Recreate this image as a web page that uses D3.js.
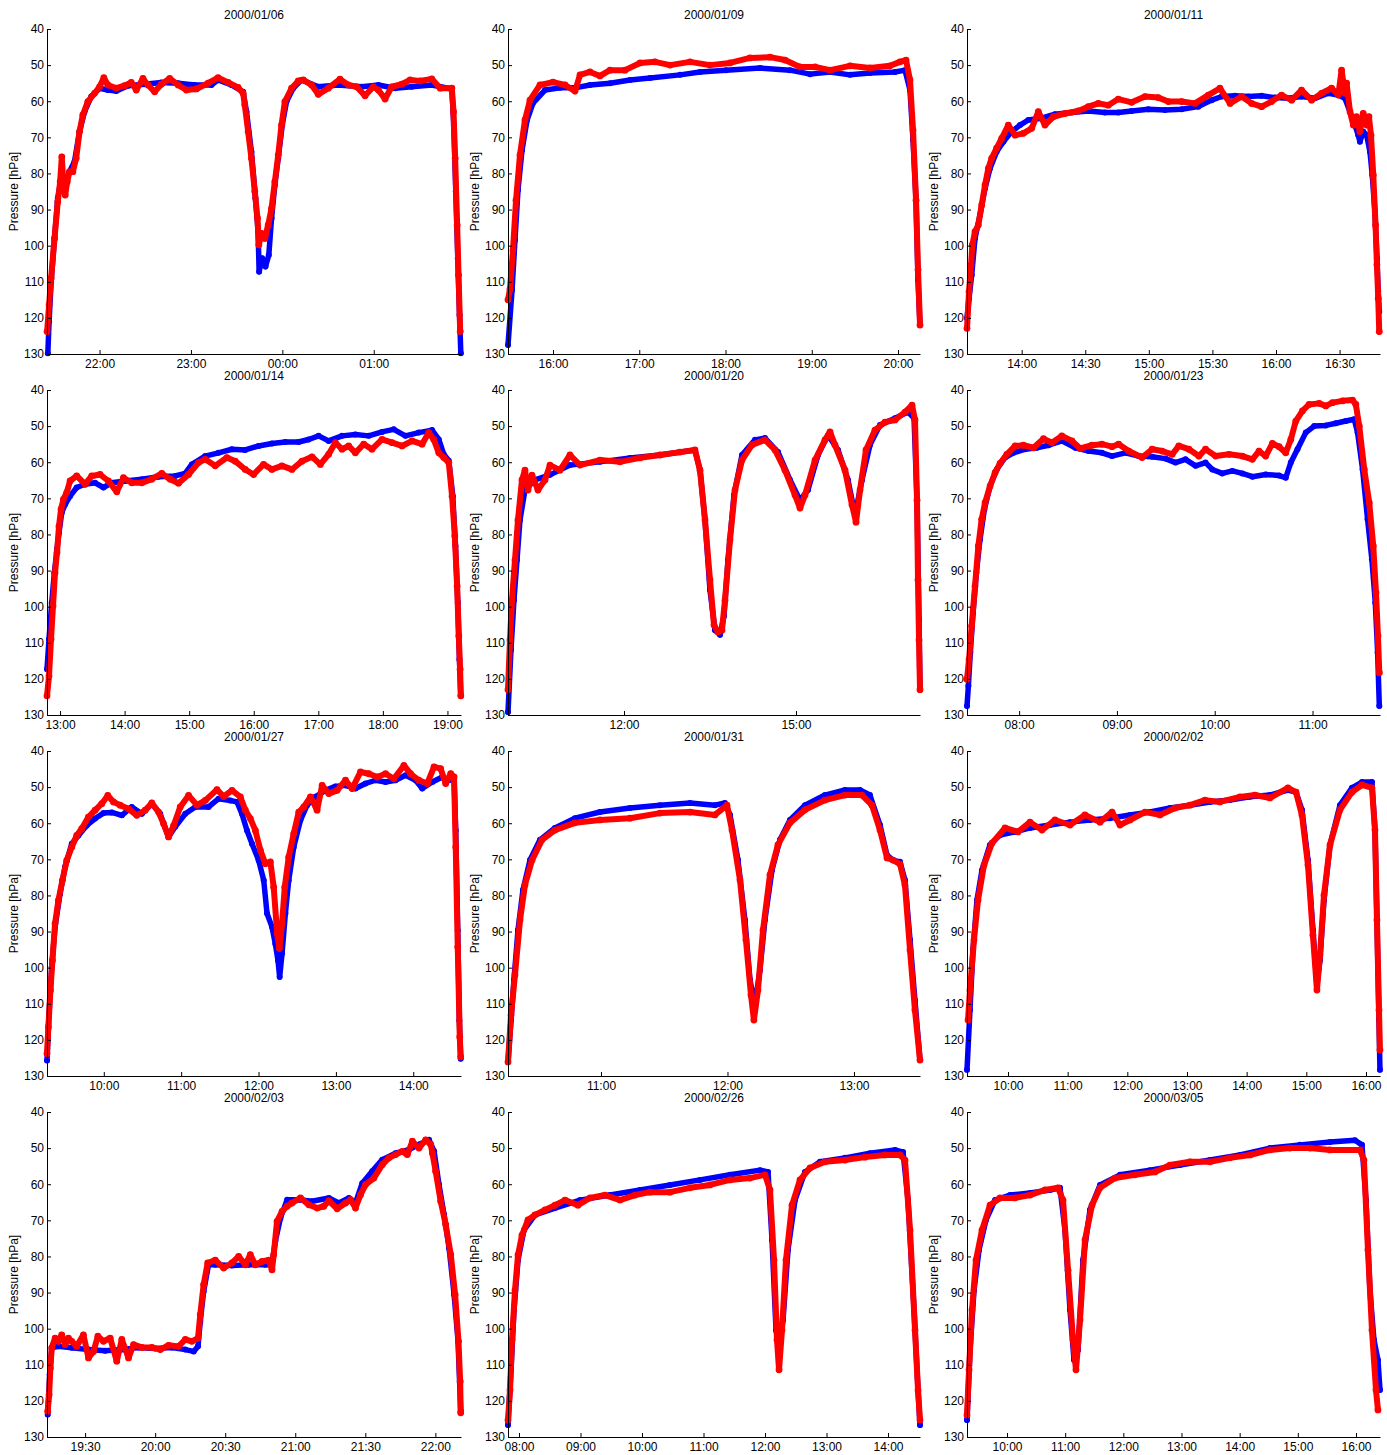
<!DOCTYPE html>
<html>
<head>
<meta charset="utf-8">
<script src="https://cdn.jsdelivr.net/npm/d3@7"></script>
<style>
  body { margin: 0; background: #fff; }
  text { font-family: "Liberation Sans", Arial, sans-serif; }
</style>
</head>
<body>
<div id="chart"></div>
<script>
// time in hours (of the day the panel starts on), pressure in hPa
const blue0106 = [[21.434,129.8],[21.448,121.0],[21.470,110.0],[21.507,98.0],[21.543,86.9],[21.580,81.4],[21.624,83.2],[21.671,79.5],[21.726,76.7],[21.781,68.4],[21.836,62.9],[21.909,58.7],[22.0,56.4],[22.091,56.9],[22.183,57.2],[22.311,55.7],[22.493,55.3],[22.676,54.8],[22.859,55.0],[23.041,55.5],[23.224,55.5],[23.297,54.1],[23.443,55.5],[23.571,57.4],[23.608,62.9],[23.662,74.0],[23.706,86.9],[23.735,96.1],[23.746,107.2],[23.779,103.5],[23.816,105.8],[23.852,102.6],[23.882,92.4],[23.918,83.2],[23.955,75.8],[23.999,66.6],[24.046,60.1],[24.119,56.4],[24.210,54.1],[24.393,56.0],[24.612,55.5],[24.868,56.0],[25.051,55.5],[25.234,56.4],[25.416,56.0],[25.635,55.5],[25.855,56.6],[25.876,66.6],[25.898,85.0],[25.920,103.5],[25.939,119.2],[25.953,129.8]];
const red0106 = [[21.426,123.8],[21.448,116.4],[21.470,109.0],[21.507,98.0],[21.543,87.8],[21.569,82.3],[21.587,75.4],[21.605,83.2],[21.624,86.0],[21.646,82.3],[21.671,79.5],[21.708,79.5],[21.744,75.8],[21.781,68.4],[21.817,63.8],[21.872,60.1],[21.945,57.8],[22.0,56.0],[22.047,53.5],[22.091,55.5],[22.183,56.4],[22.274,55.7],[22.347,54.8],[22.402,56.9],[22.475,53.7],[22.530,55.5],[22.603,57.4],[22.676,55.3],[22.767,53.7],[22.859,55.5],[22.950,56.9],[23.060,56.6],[23.187,55.0],[23.297,53.5],[23.407,54.8],[23.516,56.2],[23.571,57.8],[23.589,61.0],[23.626,68.4],[23.662,75.8],[23.699,85.0],[23.728,92.4],[23.743,99.8],[23.772,96.6],[23.809,98.0],[23.845,94.3],[23.882,89.7],[23.918,82.3],[23.955,74.9],[23.991,66.6],[24.028,60.1],[24.101,56.4],[24.174,54.4],[24.229,54.1],[24.320,55.5],[24.393,58.1],[24.503,56.4],[24.631,53.9],[24.722,55.5],[24.813,56.0],[24.905,58.5],[24.996,56.0],[25.051,56.9],[25.124,59.4],[25.197,56.0],[25.307,55.3],[25.398,54.1],[25.508,54.4],[25.635,53.8],[25.727,56.4],[25.855,56.4],[25.873,62.9],[25.891,75.8],[25.913,94.3],[25.928,108.1],[25.946,123.8]];

const blue0109 = [[15.478,127.5],[15.525,112.3],[15.559,98.4],[15.594,84.6],[15.641,73.5],[15.699,65.2],[15.768,60.5],[15.907,56.9],[16.081,56.3],[16.255,56.3],[16.429,55.5],[16.661,55.0],[16.893,54.1],[17.125,53.6],[17.473,52.7],[17.704,51.9],[18.006,51.4],[18.4,50.8],[18.748,51.4],[18.980,52.5],[19.212,51.9],[19.443,52.7],[19.675,52.2],[19.965,51.9],[20.081,51.4],[20.139,56.9],[20.174,70.7],[20.209,87.4],[20.232,109.5],[20.255,122.0]];
const red0109 = [[15.478,115.0],[15.501,112.0],[15.536,101.2],[15.571,87.4],[15.617,74.9],[15.675,65.2],[15.733,59.7],[15.849,55.5],[16.0,54.7],[16.139,55.5],[16.255,57.2],[16.313,52.7],[16.429,51.9],[16.545,53.0],[16.661,51.4],[16.835,51.4],[17.009,49.4],[17.183,49.1],[17.357,50.0],[17.588,49.1],[17.820,50.0],[18.052,49.4],[18.284,48.0],[18.516,47.8],[18.690,48.6],[18.864,50.5],[19.038,50.5],[19.212,51.4],[19.443,50.2],[19.675,50.8],[19.907,50.2],[20.023,49.1],[20.093,48.6],[20.139,54.1],[20.174,68.0],[20.209,87.4],[20.232,106.7],[20.255,122.0]];

const blue0111 = [[13.570,120.1],[13.586,114.6],[13.607,108.1],[13.633,98.0],[13.672,91.5],[13.712,84.1],[13.751,78.6],[13.803,74.0],[13.856,71.2],[13.921,68.4],[13.987,66.6],[14.052,65.2],[14.157,64.7],[14.262,63.6],[14.393,63.1],[14.524,62.7],[14.655,63.1],[14.760,63.1],[14.865,62.7],[14.996,62.2],[15.127,62.4],[15.258,62.2],[15.389,61.5],[15.494,59.7],[15.573,58.7],[15.677,58.5],[15.782,58.7],[15.887,58.5],[15.992,59.0],[16.096,59.2],[16.201,58.7],[16.306,59.2],[16.411,57.8],[16.490,58.3],[16.542,59.2],[16.582,62.9],[16.621,66.6],[16.647,69.4],[16.660,71.2],[16.686,68.4],[16.713,69.4],[16.739,74.0],[16.757,80.4],[16.778,90.6],[16.794,103.5],[16.804,112.7],[16.812,118.3]];
const red0111 = [[13.570,122.9],[13.586,112.7],[13.602,105.3],[13.612,99.8],[13.633,96.1],[13.659,94.3],[13.686,88.7],[13.712,83.2],[13.738,78.6],[13.764,75.8],[13.803,73.0],[13.843,70.3],[13.895,66.6],[13.948,69.4],[14.013,68.9],[14.079,67.5],[14.131,62.9],[14.183,66.6],[14.249,64.3],[14.341,63.4],[14.445,62.7],[14.524,61.5],[14.603,60.6],[14.681,61.1],[14.760,59.4],[14.865,60.3],[14.970,58.7],[15.074,59.0],[15.153,60.1],[15.258,60.1],[15.363,60.6],[15.468,58.3],[15.559,56.4],[15.639,60.6],[15.730,58.7],[15.808,60.6],[15.887,61.5],[15.965,60.1],[16.044,58.3],[16.123,59.7],[16.201,56.9],[16.280,59.7],[16.359,57.8],[16.437,56.4],[16.490,58.3],[16.516,51.4],[16.542,57.8],[16.555,55.0],[16.582,62.9],[16.608,66.6],[16.634,64.3],[16.660,68.4],[16.686,63.4],[16.713,66.6],[16.731,64.3],[16.747,69.4],[16.765,80.4],[16.783,94.3],[16.794,105.3],[16.804,114.6],[16.812,123.8]];

const blue0114 = [[12.798,117.3],[12.829,109.0],[12.871,98.9],[12.912,90.6],[12.953,84.1],[12.984,79.5],[13.026,74.0],[13.078,71.7],[13.155,69.4],[13.258,67.0],[13.388,66.1],[13.543,65.7],[13.672,67.0],[13.801,65.7],[14.008,65.2],[14.266,64.7],[14.525,64.0],[14.783,63.8],[14.938,63.1],[15.041,60.6],[15.248,58.3],[15.455,57.4],[15.661,56.4],[15.868,56.6],[16.075,55.5],[16.282,54.8],[16.488,54.4],[16.695,54.4],[16.850,53.7],[17.005,52.7],[17.160,54.1],[17.367,52.7],[17.574,52.3],[17.780,52.7],[17.987,51.6],[18.168,50.9],[18.349,52.7],[18.556,51.8],[18.762,51.1],[18.866,53.7],[18.943,57.8],[19.021,59.6],[19.083,69.4],[19.124,83.2],[19.160,98.9],[19.186,114.6],[19.207,124.7]];
const red0114 = [[12.798,124.7],[12.829,119.2],[12.860,109.0],[12.891,99.8],[12.922,90.6],[12.953,85.0],[12.984,77.7],[13.016,73.0],[13.052,70.3],[13.103,68.4],[13.155,65.2],[13.258,63.8],[13.388,66.1],[13.491,63.8],[13.620,63.4],[13.749,65.2],[13.879,68.2],[13.982,64.3],[14.111,65.7],[14.266,65.7],[14.421,64.7],[14.576,63.1],[14.705,64.7],[14.835,65.8],[14.990,63.4],[15.145,60.1],[15.248,59.2],[15.403,61.0],[15.584,58.7],[15.713,59.7],[15.868,62.0],[15.997,63.4],[16.152,60.6],[16.282,62.0],[16.437,61.0],[16.592,62.0],[16.747,59.7],[16.902,58.5],[17.031,60.6],[17.160,57.8],[17.264,54.6],[17.367,56.4],[17.470,55.5],[17.574,57.4],[17.703,55.0],[17.832,56.4],[17.987,53.7],[18.142,54.6],[18.297,55.5],[18.452,54.1],[18.607,55.0],[18.711,51.8],[18.788,53.7],[18.866,57.4],[18.943,58.7],[19.021,60.1],[19.072,69.4],[19.114,80.4],[19.150,94.3],[19.176,108.1],[19.196,117.3],[19.207,124.7]];

const blue0120 = [[9.977,129.2],[10.029,112.0],[10.081,98.2],[10.134,87.1],[10.186,76.0],[10.273,67.7],[10.448,64.9],[10.709,63.5],[11.058,60.8],[11.581,59.9],[12.105,58.8],[12.628,58.0],[13.238,56.6],[13.326,62.2],[13.413,76.0],[13.500,95.4],[13.587,106.5],[13.675,107.8],[13.744,102.6],[13.814,87.1],[13.919,69.1],[14.058,58.0],[14.285,53.8],[14.459,53.3],[14.686,57.2],[14.896,64.9],[15.070,70.5],[15.209,67.7],[15.384,58.0],[15.558,52.5],[15.733,56.6],[15.907,64.9],[16.029,74.6],[16.151,64.9],[16.291,55.2],[16.465,49.7],[16.727,47.8],[16.954,46.1],[17.059,47.8],[17.111,70.5],[17.146,103.6],[17.163,123.0]];
const red0120 = [[9.977,123.0],[10.012,109.2],[10.046,98.2],[10.099,87.1],[10.151,76.0],[10.221,64.9],[10.273,62.2],[10.326,67.7],[10.395,63.6],[10.500,67.7],[10.622,64.9],[10.709,60.8],[10.884,62.2],[11.058,58.0],[11.233,60.8],[11.581,59.4],[11.930,59.9],[12.279,58.8],[12.628,58.0],[12.977,57.2],[13.238,56.6],[13.326,62.2],[13.413,76.0],[13.500,92.6],[13.570,105.1],[13.640,107.0],[13.709,106.5],[13.762,98.2],[13.849,81.5],[13.936,67.7],[14.058,59.4],[14.233,55.2],[14.459,53.8],[14.634,56.6],[14.808,62.2],[14.983,69.1],[15.070,72.7],[15.157,69.1],[15.332,59.4],[15.506,53.8],[15.593,51.6],[15.680,55.2],[15.855,62.2],[15.977,71.8],[16.047,76.6],[16.117,67.7],[16.221,56.6],[16.378,51.1],[16.553,48.9],[16.727,48.3],[16.901,46.1],[17.024,44.2],[17.076,48.3],[17.111,70.5],[17.128,92.6],[17.146,109.2],[17.163,123.0]];

const blue0123 = [[7.467,127.5],[7.481,122.0],[7.501,112.7],[7.529,101.7],[7.563,90.6],[7.600,81.4],[7.645,73.0],[7.703,66.6],[7.771,62.0],[7.857,58.7],[7.942,57.4],[8.062,56.4],[8.181,56.0],[8.301,55.3],[8.437,54.1],[8.574,56.0],[8.711,56.9],[8.847,57.4],[8.950,58.3],[9.086,57.4],[9.223,58.3],[9.360,58.5],[9.496,59.0],[9.599,60.1],[9.701,59.2],[9.804,61.0],[9.906,60.1],[9.975,62.0],[10.077,63.1],[10.180,62.4],[10.282,63.1],[10.385,64.0],[10.521,63.4],[10.658,63.7],[10.726,64.3],[10.778,60.1],[10.846,56.4],[10.931,51.8],[11.017,50.0],[11.136,49.8],[11.239,49.2],[11.341,48.6],[11.427,48.1],[11.461,51.8],[11.512,62.0],[11.563,75.8],[11.607,86.9],[11.642,98.9],[11.666,112.7],[11.683,127.5]];
const red0123 = [[7.467,120.1],[7.488,114.6],[7.515,105.3],[7.549,94.3],[7.583,83.2],[7.617,75.8],[7.652,71.2],[7.703,66.6],[7.754,62.9],[7.805,60.3],[7.874,57.8],[7.959,55.5],[8.044,55.3],[8.147,56.0],[8.249,53.5],[8.335,54.6],[8.437,52.7],[8.540,54.1],[8.625,56.2],[8.745,55.3],[8.847,55.0],[8.950,55.7],[9.018,55.0],[9.121,56.9],[9.257,58.7],[9.360,56.4],[9.462,56.9],[9.565,57.8],[9.633,55.5],[9.736,56.4],[9.838,58.3],[9.906,56.4],[10.009,58.3],[10.146,57.8],[10.282,58.3],[10.385,59.2],[10.453,56.9],[10.521,58.3],[10.590,54.8],[10.658,55.7],[10.726,57.4],[10.778,53.7],[10.829,48.6],[10.897,45.8],[10.965,44.0],[11.068,43.7],[11.136,44.4],[11.204,43.5],[11.307,43.0],[11.409,42.8],[11.443,44.0],[11.478,50.0],[11.529,62.0],[11.580,71.2],[11.621,83.2],[11.649,96.1],[11.669,108.1],[11.683,118.3]];

const blue0127 = [[9.266,125.7],[9.292,112.7],[9.327,99.8],[9.370,88.7],[9.435,79.5],[9.499,72.1],[9.586,65.7],[9.672,63.4],[9.780,60.6],[9.888,58.7],[9.996,57.2],[10.104,57.0],[10.233,57.8],[10.362,55.5],[10.492,57.4],[10.621,54.6],[10.729,57.4],[10.837,63.8],[10.923,61.0],[11.053,57.4],[11.182,55.5],[11.355,55.5],[11.484,53.2],[11.635,53.7],[11.722,54.1],[11.786,57.4],[11.851,62.0],[11.916,65.7],[12.002,70.3],[12.067,75.8],[12.110,85.0],[12.174,88.7],[12.217,93.4],[12.252,98.0],[12.273,102.6],[12.304,96.1],[12.347,85.0],[12.390,75.8],[12.455,66.6],[12.541,59.2],[12.628,55.0],[12.735,52.7],[12.865,50.9],[12.994,49.8],[13.124,49.5],[13.253,50.4],[13.383,49.0],[13.512,48.1],[13.642,48.6],[13.771,48.1],[13.901,46.7],[14.030,48.1],[14.116,50.4],[14.246,48.6],[14.375,47.2],[14.462,48.1],[14.527,47.2],[14.549,62.0],[14.575,89.7],[14.596,114.6],[14.613,125.2]];
const red0127 = [[9.266,123.8],[9.284,116.4],[9.310,106.3],[9.336,98.0],[9.370,87.8],[9.413,81.4],[9.465,75.8],[9.521,70.3],[9.586,66.6],[9.650,63.4],[9.715,61.5],[9.801,58.3],[9.888,56.4],[9.974,54.6],[10.052,52.3],[10.125,54.1],[10.211,55.0],[10.319,56.0],[10.427,57.8],[10.535,56.4],[10.621,54.4],[10.708,56.9],[10.772,60.1],[10.837,63.8],[10.902,60.7],[10.988,55.5],[11.096,52.3],[11.204,55.0],[11.312,53.7],[11.463,50.7],[11.549,52.6],[11.657,50.9],[11.765,52.7],[11.830,56.4],[11.894,58.7],[11.959,62.0],[12.024,67.5],[12.088,71.2],[12.153,70.7],[12.196,77.7],[12.241,90.6],[12.270,94.7],[12.304,87.8],[12.339,77.7],[12.390,69.4],[12.455,62.9],[12.520,56.9],[12.585,55.5],[12.671,52.7],[12.757,56.4],[12.822,49.5],[12.908,51.8],[13.016,50.9],[13.124,48.1],[13.210,50.4],[13.318,45.8],[13.426,46.3],[13.534,47.2],[13.642,46.3],[13.749,47.7],[13.879,44.0],[13.965,46.3],[14.073,48.1],[14.181,49.0],[14.268,44.4],[14.354,44.9],[14.419,49.0],[14.484,46.3],[14.527,47.2],[14.549,66.6],[14.575,94.3],[14.601,119.2],[14.613,124.7]];

const blue0131 = [[10.265,126.1],[10.289,114.5],[10.312,103.4],[10.344,89.6],[10.383,78.5],[10.439,70.2],[10.518,64.6],[10.636,61.3],[10.794,58.6],[10.992,56.9],[11.229,55.8],[11.466,55.0],[11.704,54.4],[11.901,55.0],[11.980,54.4],[12.020,57.7],[12.083,70.2],[12.138,86.8],[12.178,103.4],[12.217,110.3],[12.257,100.6],[12.296,86.8],[12.352,73.0],[12.415,64.6],[12.494,59.1],[12.613,55.0],[12.771,52.2],[12.929,50.8],[13.047,50.8],[13.126,52.2],[13.206,60.5],[13.261,68.8],[13.308,70.2],[13.364,70.7],[13.403,75.7],[13.443,92.3],[13.482,109.0],[13.522,125.6]];
const red0131 = [[10.265,126.1],[10.289,113.1],[10.320,102.0],[10.360,86.8],[10.399,77.1],[10.455,70.2],[10.534,64.6],[10.636,61.9],[10.794,59.9],[10.992,59.1],[11.229,58.6],[11.466,57.2],[11.704,56.9],[11.901,57.7],[11.996,55.0],[12.036,61.9],[12.099,75.7],[12.146,92.3],[12.186,107.6],[12.209,114.5],[12.241,106.2],[12.281,89.6],[12.336,74.3],[12.399,66.0],[12.494,59.9],[12.613,56.3],[12.771,53.6],[12.929,52.2],[13.063,52.2],[13.142,55.0],[13.206,61.9],[13.261,69.6],[13.308,70.2],[13.364,71.3],[13.403,77.1],[13.443,95.1],[13.482,111.7],[13.522,125.6]];

const blue0202 = [[9.313,128.3],[9.363,111.7],[9.413,95.1],[9.480,81.3],[9.564,73.0],[9.698,66.0],[9.866,63.3],[10.117,62.4],[10.369,61.3],[10.704,60.5],[11.039,59.7],[11.374,59.1],[11.709,58.6],[12.045,57.7],[12.380,56.9],[12.715,55.8],[13.050,55.0],[13.385,54.1],[13.720,53.6],[14.056,52.7],[14.391,52.2],[14.692,50.8],[14.827,51.4],[14.927,56.3],[15.028,70.2],[15.111,89.6],[15.178,104.8],[15.229,97.9],[15.296,81.3],[15.397,66.0],[15.564,55.0],[15.765,50.2],[15.933,48.6],[16.100,48.6],[16.151,61.9],[16.184,86.8],[16.218,114.5],[16.234,128.3]];
const red0202 = [[9.330,114.5],[9.363,106.2],[9.430,92.3],[9.497,81.3],[9.598,71.6],[9.732,65.5],[9.950,61.3],[10.168,62.4],[10.369,59.7],[10.570,61.9],[10.788,59.1],[11.039,60.5],[11.290,57.7],[11.542,59.7],[11.743,56.9],[11.877,60.5],[12.045,59.1],[12.296,56.9],[12.547,57.7],[12.799,55.8],[13.050,55.0],[13.302,53.6],[13.553,54.1],[13.888,52.7],[14.139,52.2],[14.391,53.0],[14.692,50.2],[14.827,51.4],[14.927,57.7],[15.028,71.6],[15.111,91.0],[15.178,106.2],[15.229,96.5],[15.296,79.9],[15.397,66.0],[15.564,56.3],[15.765,51.4],[15.933,49.4],[16.100,50.2],[16.151,61.9],[16.184,86.8],[16.218,111.7],[16.234,122.8]];

const blue0203 = [[19.233,123.8],[19.247,112.7],[19.262,105.3],[19.309,104.9],[19.405,105.3],[19.524,105.8],[19.643,106.1],[19.762,105.8],[19.881,105.2],[20.000,105.5],[20.120,105.2],[20.215,105.8],[20.275,106.3],[20.306,104.9],[20.322,98.0],[20.346,89.7],[20.381,82.3],[20.429,82.3],[20.548,82.5],[20.667,82.3],[20.786,82.3],[20.834,82.3],[20.858,75.8],[20.894,69.4],[20.942,64.3],[21.025,64.3],[21.120,64.7],[21.240,63.8],[21.311,65.2],[21.383,63.8],[21.430,65.2],[21.478,59.7],[21.549,56.4],[21.621,53.2],[21.716,51.4],[21.812,50.4],[21.883,49.0],[21.955,47.7],[21.991,50.9],[22.026,60.1],[22.062,68.4],[22.098,77.7],[22.134,90.6],[22.162,103.5],[22.181,122.9]];
const red0203 = [[19.233,122.9],[19.243,118.3],[19.252,110.9],[19.262,105.3],[19.286,102.6],[19.309,103.5],[19.333,101.7],[19.357,104.4],[19.381,102.6],[19.405,103.5],[19.440,104.9],[19.488,101.7],[19.524,108.1],[19.560,106.3],[19.591,102.1],[19.631,103.5],[19.679,102.6],[19.726,109.0],[19.762,103.0],[19.810,108.1],[19.846,104.4],[19.905,105.2],[19.977,105.2],[20.037,105.8],[20.096,104.6],[20.167,104.9],[20.215,103.0],[20.262,103.5],[20.306,102.6],[20.322,96.1],[20.346,87.8],[20.375,81.8],[20.429,81.0],[20.489,83.2],[20.548,81.8],[20.596,80.0],[20.644,82.3],[20.679,79.5],[20.715,82.3],[20.763,81.4],[20.811,81.0],[20.834,83.7],[20.846,79.5],[20.870,70.3],[20.906,67.5],[20.942,66.1],[20.977,65.2],[21.037,63.8],[21.097,65.7],[21.156,66.6],[21.204,66.1],[21.240,64.6],[21.299,66.8],[21.359,65.2],[21.395,64.3],[21.430,66.6],[21.466,62.9],[21.502,60.1],[21.561,58.3],[21.621,54.6],[21.669,52.7],[21.716,51.8],[21.764,50.9],[21.800,51.8],[21.836,48.1],[21.883,50.0],[21.931,47.7],[21.967,49.0],[21.979,51.4],[22.002,56.4],[22.038,64.7],[22.074,71.2],[22.110,79.5],[22.141,90.6],[22.165,103.5],[22.177,114.6],[22.181,123.3]];

const blue0226 = [[7.821,126.7],[7.870,111.4],[7.919,94.8],[7.984,81.0],[8.081,72.7],[8.260,68.5],[8.585,66.6],[8.992,64.4],[9.480,63.0],[9.967,61.6],[10.455,60.2],[10.943,58.8],[11.431,57.4],[11.919,56.1],[12.049,56.6],[12.114,75.5],[12.179,100.4],[12.228,104.5],[12.293,97.6],[12.374,78.2],[12.488,64.4],[12.650,56.6],[12.894,53.8],[13.301,52.7],[13.707,51.4],[14.114,50.5],[14.244,51.1],[14.325,64.4],[14.423,94.8],[14.488,117.0],[14.520,126.7]];
const red0226 = [[7.821,125.3],[7.854,117.0],[7.886,103.1],[7.935,89.3],[7.984,79.6],[8.049,74.1],[8.146,69.9],[8.260,68.5],[8.423,67.1],[8.585,65.8],[8.748,64.4],[8.959,65.8],[9.154,63.8],[9.398,63.0],[9.642,64.4],[9.886,63.0],[10.130,62.2],[10.455,62.2],[10.780,61.0],[11.106,60.2],[11.431,58.8],[11.756,58.3],[12.0,57.4],[12.081,61.6],[12.146,81.0],[12.195,103.1],[12.228,111.4],[12.276,100.4],[12.341,81.0],[12.439,65.8],[12.569,58.8],[12.732,55.5],[12.976,53.8],[13.301,53.3],[13.626,52.5],[13.951,51.9],[14.195,51.9],[14.276,53.3],[14.358,72.7],[14.439,100.4],[14.488,117.0],[14.520,125.3]];

const blue0305 = [[9.312,125.3],[9.364,105.9],[9.433,89.3],[9.519,78.2],[9.639,69.9],[9.794,64.4],[10.052,63.0],[10.395,62.4],[10.739,61.6],[10.911,61.0],[10.997,72.7],[11.083,94.8],[11.152,108.7],[11.221,105.9],[11.307,81.0],[11.427,67.1],[11.599,60.2],[11.943,57.4],[12.458,56.1],[12.974,54.7],[13.490,53.3],[14.005,51.9],[14.521,50.0],[15.037,49.1],[15.553,48.3],[15.982,47.8],[16.103,49.1],[16.172,64.4],[16.240,89.3],[16.309,103.1],[16.378,108.7],[16.413,117.0]];
const red0305 = [[9.312,123.9],[9.347,111.4],[9.398,94.8],[9.467,81.0],[9.570,72.7],[9.708,65.8],[9.880,63.8],[10.138,63.8],[10.395,63.0],[10.653,61.6],[10.877,61.0],[10.963,64.4],[11.049,83.8],[11.135,103.1],[11.186,111.4],[11.255,97.6],[11.341,75.4],[11.461,65.8],[11.599,61.0],[11.857,58.3],[12.200,57.4],[12.544,56.6],[12.802,54.7],[13.146,53.8],[13.490,53.8],[13.834,52.7],[14.177,51.9],[14.521,50.5],[14.865,50.0],[15.209,50.0],[15.553,50.5],[16.069,50.5],[16.137,53.3],[16.206,78.2],[16.275,100.4],[16.344,117.0],[16.378,122.5]];

// panel titles, time ranges (hours) and tick hours
const titles = ['2000/01/06','2000/01/09','2000/01/11','2000/01/14','2000/01/20','2000/01/23',
                '2000/01/27','2000/01/31','2000/02/02','2000/02/03','2000/02/26','2000/03/05'];
const timeRanges = [[21.425,25.955],[15.478,20.255],[13.57,16.818],[12.798,19.21],[9.977,17.163],[7.467,11.69],
                    [9.266,14.617],[10.265,13.522],[9.313,16.235],[19.228,22.183],[7.821,14.52],[9.312,16.413]];
const timeTicks = [[22,23,24,25],[16,17,18,19,20],[14,14.5,15,15.5,16,16.5],[13,14,15,16,17,18,19],[12,15],[8,9,10,11],
                   [10,11,12,13,14],[11,12,13],[10,11,12,13,14,15,16],[19.5,20,20.5,21,21.5,22],[8,9,10,11,12,13,14],[10,11,12,13,14,15,16]];
const blueSeries = [blue0106,blue0109,blue0111,blue0114,blue0120,blue0123,blue0127,blue0131,blue0202,blue0203,blue0226,blue0305];
const redSeries = [red0106,red0109,red0111,red0114,red0120,red0123,red0127,red0131,red0202,red0203,red0226,red0305];
const pressureTicks = [40,50,60,70,80,90,100,110,120,130];

const width = 1387;
const height = 1455;
const colLeft = [47, 508, 967];
const colRight = [461, 920, 1380];
const rowTop = [29, 390, 751, 1112];
const plotHeight = 325;

const svg = d3.select('#chart').append('svg')
    .attr('width', width)
    .attr('height', height);

function fmtTime(h) {
    const total = Math.round(h * 60);
    const hh = Math.floor(total / 60) % 24;
    const mm = total % 60;
    return String(hh).padStart(2, '0') + ':' + String(mm).padStart(2, '0');
}

titles.forEach((title, i) => {
    const col = i % 3;
    const row = Math.floor(i / 3);
    const top = rowTop[row];
    const bottom = top + plotHeight;
    const left = colLeft[col];
    const right = colRight[col];

    const x = d3.scaleLinear().domain(timeRanges[i]).range([left, right]);
    const y = d3.scaleLinear().domain([40, 130]).range([top, bottom]);

    const g = svg.append('g').attr('class', 'panel');

    const line = d3.line()
        .x(d => x(d[0]))
        .y(d => y(d[1]));

    const series = [
        {data: blueSeries[i], color: '#0000ff', w: 5.5, r: 3},
        {data: redSeries[i], color: '#ff0000', w: 6, r: 3.4}
    ];

    series.forEach(s => {
        g.append('path')
            .datum(s.data)
            .attr('d', line)
            .attr('fill', 'none')
            .attr('stroke', s.color)
            .attr('stroke-width', s.w)
            .attr('stroke-linejoin', 'round')
            .attr('stroke-linecap', 'round');
        g.selectAll(null)
            .data(s.data)
            .enter()
            .append('circle')
            .attr('cx', d => x(d[0]))
            .attr('cy', d => y(d[1]))
            .attr('r', s.r)
            .attr('fill', s.color);
    });

    const xAxis = d3.axisBottom(x)
        .tickValues(timeTicks[i])
        .tickFormat(fmtTime)
        .tickSizeInner(-4)
        .tickSizeOuter(0)
        .tickPadding(5);

    const gx = g.append('g')
        .attr('transform', `translate(0,${bottom})`)
        .call(xAxis);

    const yAxis = d3.axisLeft(y)
        .tickValues(pressureTicks)
        .tickSizeInner(-4)
        .tickSizeOuter(0)
        .tickPadding(3);

    const gy = g.append('g')
        .attr('transform', `translate(${left},0)`)
        .call(yAxis);

    [gx, gy].forEach(ax => {
        ax.selectAll('text').attr('font-size', 12).attr('fill', '#000')
            .style('font-family', '"Liberation Sans", Arial, sans-serif');
        ax.selectAll('path, line').attr('stroke', '#000');
    });

    g.append('text')
        .attr('x', (left + right) / 2)
        .attr('y', top - 10)
        .attr('text-anchor', 'middle')
        .attr('font-size', 12)
        .text(title);

    g.append('text')
        .attr('transform', `translate(${left - 29},${(top + bottom) / 2}) rotate(-90)`)
        .attr('text-anchor', 'middle')
        .attr('font-size', 12)
        .text('Pressure [hPa]');
});
</script>
</body>
</html>
